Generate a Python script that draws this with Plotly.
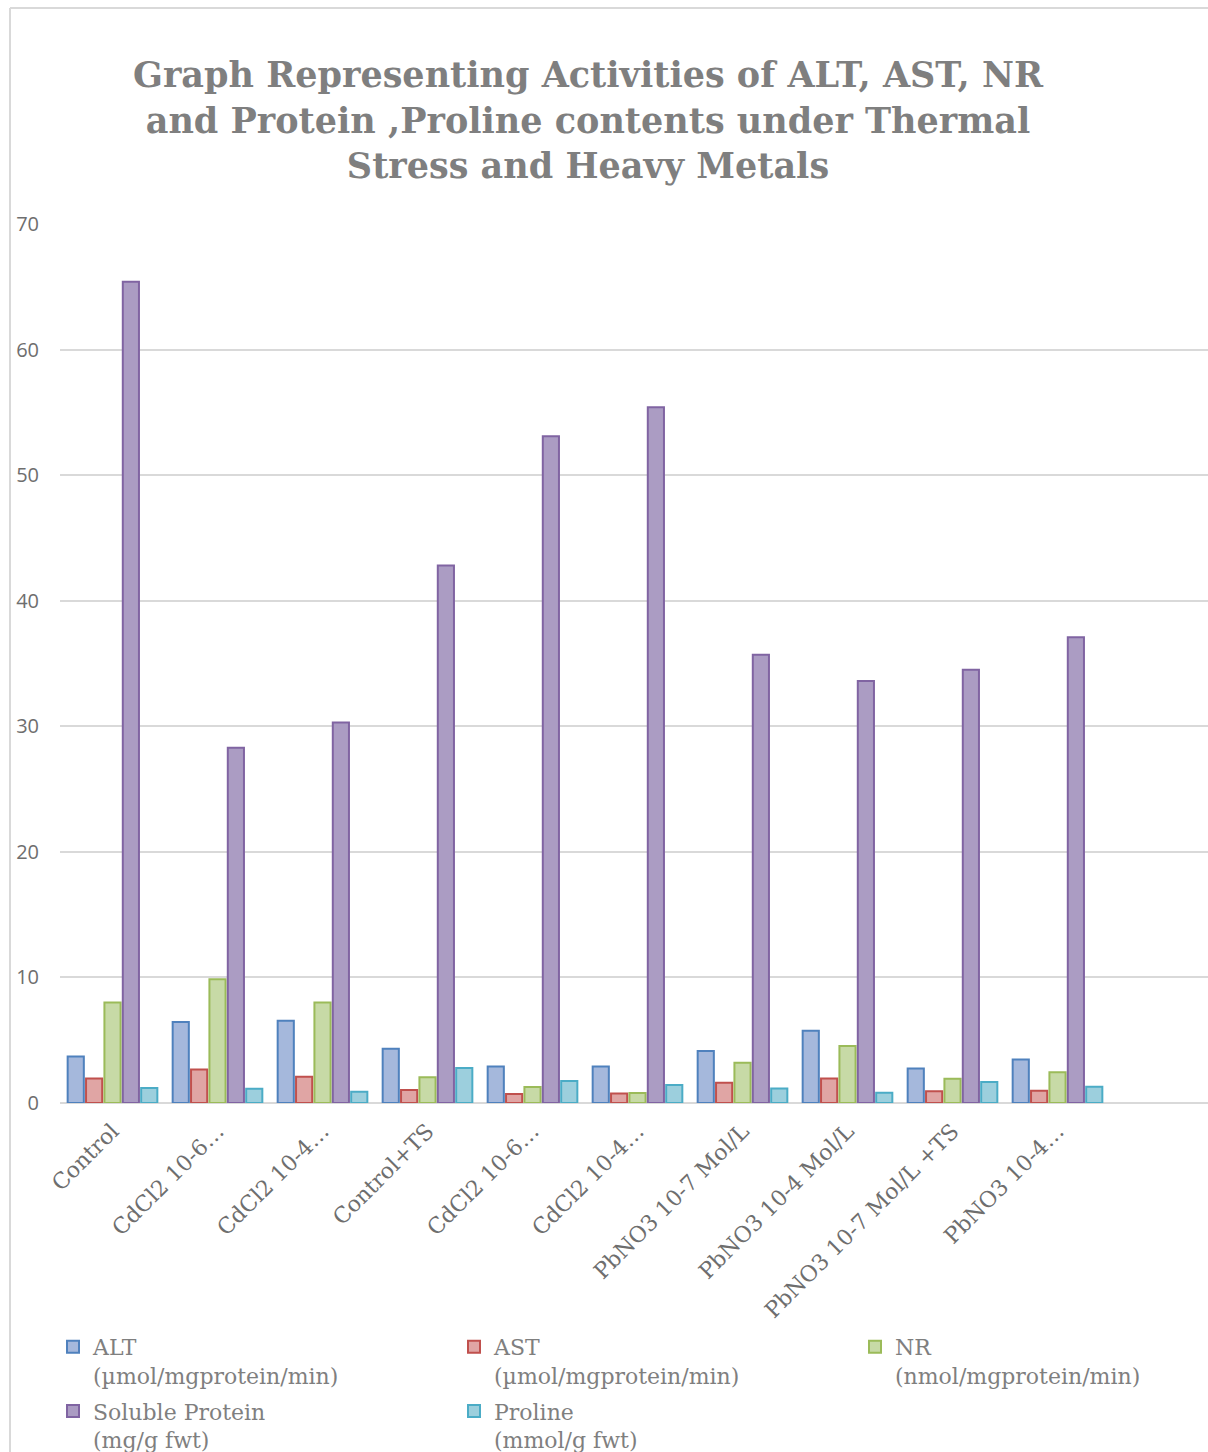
import plotly.graph_objects as go

# Treatments (full names) and the labels shown under the axis
categories = [
    "Control",
    "CdCl2 10-6 Mol/L",
    "CdCl2 10-4 Mol/L",
    "Control+TS",
    "CdCl2 10-6 Mol/L +TS",
    "CdCl2 10-4 Mol/L +TS",
    "PbNO3 10-7 Mol/L",
    "PbNO3 10-4 Mol/L",
    "PbNO3 10-7 Mol/L +TS",
    "PbNO3 10-4 Mol/L +TS",
]
tick_labels = [
    "Control",
    "CdCl2 10-6…",
    "CdCl2 10-4…",
    "Control+TS",
    "CdCl2 10-6…",
    "CdCl2 10-4…",
    "PbNO3 10-7 Mol/L",
    "PbNO3 10-4 Mol/L",
    "PbNO3 10-7 Mol/L +TS",
    "PbNO3 10-4…",
]

alt = [3.7, 6.45, 6.55, 4.33, 2.9, 2.9, 4.14, 5.76, 2.74, 3.46]
ast = [1.96, 2.66, 2.1, 1.04, 0.72, 0.75, 1.62, 1.96, 0.93, 0.98]
nr = [8.0, 9.85, 8.0, 2.05, 1.27, 0.8, 3.2, 4.54, 1.94, 2.45]
soluble_protein = [65.4, 28.3, 30.3, 42.8, 53.1, 55.4, 35.7, 33.6, 34.5, 37.1]
proline = [1.2, 1.14, 0.9, 2.79, 1.75, 1.43, 1.16, 0.82, 1.67, 1.3]

# name, values, fill, outline, legend column
series = [
    ("ALT<br>(µmol/mgprotein/min)", alt, "#a5b8dc", "#4f81bd", "legend"),
    ("AST<br>(µmol/mgprotein/min)", ast, "#e0a5a4", "#c0504d", "legend2"),
    ("NR<br>(nmol/mgprotein/min)", nr, "#c7daa6", "#9bbb59", "legend3"),
    ("Soluble Protein<br>(mg/g fwt)", soluble_protein, "#ab9cc3", "#8064a2", "legend"),
    ("Proline<br>(mmol/g fwt)", proline, "#9ccfdd", "#4bacc6", "legend2"),
]

W, H = 1208, 1452
L, R, T, B = 60, 0, 224, 1452 - 1103
pw, ph = W - L - R, H - T - B

x_idx = list(range(len(categories)))

fig = go.Figure()
for i, (name, vals, fill, line, leg) in enumerate(series):
    fig.add_trace(go.Bar(
        x=x_idx, y=vals, name=name, legend=leg, legendgroup=f"g{i}",
        marker=dict(color=fill, line=dict(color=line, width=2)),
        customdata=categories,
        hovertemplate="%{customdata}: %{y}<extra></extra>",
    ))

def px_x(v):
    return (v - L) / pw

def px_y(v):
    return (H - B - v) / ph

grey = "#7f7f7f"
legend_font = dict(family="DejaVu Serif", size=22, color=grey)

def legend_at(x_px):
    return dict(
        orientation="v", x=px_x(x_px), xanchor="left",
        y=px_y(1326), yanchor="top", valign="top",
        font=legend_font, bgcolor="rgba(0,0,0,0)",
        itemclick=False, itemdoubleclick=False,
        tracegroupgap=4,
    )

fig.update_layout(
    width=W, height=H,
    margin=dict(l=L, r=R, t=T, b=B, autoexpand=False),
    paper_bgcolor="white", plot_bgcolor="white",
    barmode="group", bargap=0.125, bargroupgap=0.12,
    title=dict(
        text="Graph Representing Activities of ALT, AST, NR<br>"
             "and Protein ,Proline contents under Thermal<br>"
             "Stress and Heavy Metals",
        x=588 / W, xanchor="center", xref="container",
        y=1 - 87 / H, yanchor="top", yref="container",
        font=dict(family="DejaVu Serif", size=35, color=grey, weight="bold"),
    ),
    xaxis=dict(
        range=[-0.5, -0.5 + pw / 105.0], automargin=False,
        tickvals=x_idx, ticktext=tick_labels, tickangle=-45,
        showgrid=False, showline=False, zeroline=False, ticks="",
        ticklabelstandoff=10,
        tickfont=dict(family="DejaVu Serif", size=22, color="#6e6e6e"),
    ),
    yaxis=dict(
        range=[0, 70], dtick=10, automargin=False,
        showgrid=True, gridcolor="#d9d9d9", gridwidth=1.5,
        zeroline=True, zerolinecolor="#d9d9d9", zerolinewidth=2,
        showline=False, ticks="", ticklabelstandoff=20,
        tickfont=dict(family="Open Sans", size=20, color="#6e6e6e"),
    ),
    legend=legend_at(53),
    legend2=legend_at(454),
    legend3=legend_at(855),
    shapes=[
        # chart border (left and top edges visible)
        dict(type="line", xref="paper", yref="paper",
             x0=px_x(10), x1=px_x(10), y0=px_y(8), y1=px_y(H + 10),
             line=dict(color="#d9d9d9", width=2)),
        dict(type="line", xref="paper", yref="paper",
             x0=px_x(10), x1=px_x(W + 10), y0=px_y(8), y1=px_y(8),
             line=dict(color="#d9d9d9", width=2)),
    ],
)

fig.write_html("out.html")
